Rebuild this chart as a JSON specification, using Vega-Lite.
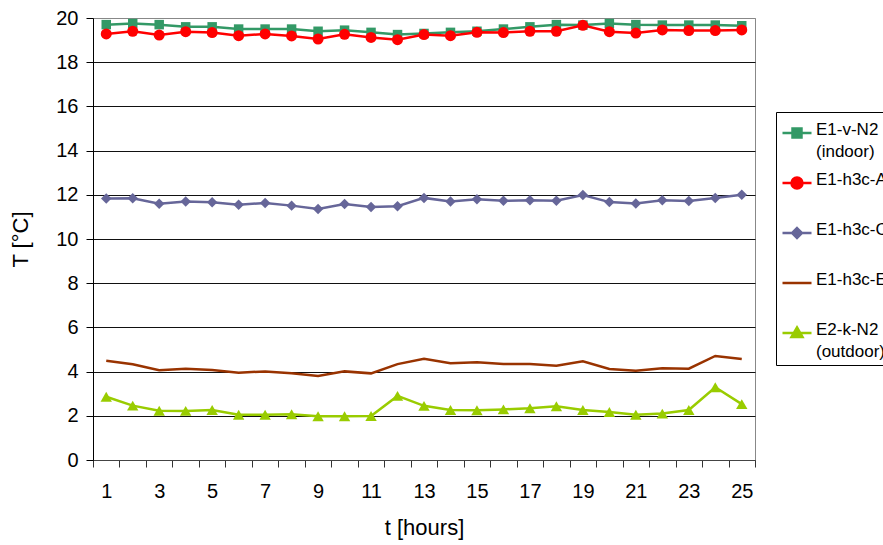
{
  "$schema": "https://vega.github.io/schema/vega-lite/v6.json",
  "width": 662,
  "height": 442,
  "autosize": {"type": "none"},
  "padding": {"left": 93, "top": 18, "right": 128, "bottom": 85},
  "background": "white",
  "config": {
    "font": "Liberation Sans",
    "view": {"stroke": "#888888", "strokeWidth": 1},
    "legend": {"titleFont": "Liberation Sans", "labelFont": "Liberation Sans"}
  },
  "datasets": {
    "temps": [
      {"t":1,"s":"E1-v-N2 (indoor)","T":19.7},{"t":2,"s":"E1-v-N2 (indoor)","T":19.75},{"t":3,"s":"E1-v-N2 (indoor)","T":19.7},{"t":4,"s":"E1-v-N2 (indoor)","T":19.6},{"t":5,"s":"E1-v-N2 (indoor)","T":19.6},{"t":6,"s":"E1-v-N2 (indoor)","T":19.5},{"t":7,"s":"E1-v-N2 (indoor)","T":19.5},{"t":8,"s":"E1-v-N2 (indoor)","T":19.5},{"t":9,"s":"E1-v-N2 (indoor)","T":19.4},{"t":10,"s":"E1-v-N2 (indoor)","T":19.45},{"t":11,"s":"E1-v-N2 (indoor)","T":19.35},{"t":12,"s":"E1-v-N2 (indoor)","T":19.25},{"t":13,"s":"E1-v-N2 (indoor)","T":19.3},{"t":14,"s":"E1-v-N2 (indoor)","T":19.35},{"t":15,"s":"E1-v-N2 (indoor)","T":19.4},{"t":16,"s":"E1-v-N2 (indoor)","T":19.5},{"t":17,"s":"E1-v-N2 (indoor)","T":19.6},{"t":18,"s":"E1-v-N2 (indoor)","T":19.7},{"t":19,"s":"E1-v-N2 (indoor)","T":19.68},{"t":20,"s":"E1-v-N2 (indoor)","T":19.75},{"t":21,"s":"E1-v-N2 (indoor)","T":19.7},{"t":22,"s":"E1-v-N2 (indoor)","T":19.68},{"t":23,"s":"E1-v-N2 (indoor)","T":19.68},{"t":24,"s":"E1-v-N2 (indoor)","T":19.68},{"t":25,"s":"E1-v-N2 (indoor)","T":19.65},
      {"t":1,"s":"E1-h3c-A","T":19.28},{"t":2,"s":"E1-h3c-A","T":19.4},{"t":3,"s":"E1-h3c-A","T":19.23},{"t":4,"s":"E1-h3c-A","T":19.38},{"t":5,"s":"E1-h3c-A","T":19.34},{"t":6,"s":"E1-h3c-A","T":19.2},{"t":7,"s":"E1-h3c-A","T":19.28},{"t":8,"s":"E1-h3c-A","T":19.19},{"t":9,"s":"E1-h3c-A","T":19.05},{"t":10,"s":"E1-h3c-A","T":19.26},{"t":11,"s":"E1-h3c-A","T":19.12},{"t":12,"s":"E1-h3c-A","T":19.02},{"t":13,"s":"E1-h3c-A","T":19.25},{"t":14,"s":"E1-h3c-A","T":19.2},{"t":15,"s":"E1-h3c-A","T":19.35},{"t":16,"s":"E1-h3c-A","T":19.34},{"t":17,"s":"E1-h3c-A","T":19.4},{"t":18,"s":"E1-h3c-A","T":19.4},{"t":19,"s":"E1-h3c-A","T":19.67},{"t":20,"s":"E1-h3c-A","T":19.38},{"t":21,"s":"E1-h3c-A","T":19.32},{"t":22,"s":"E1-h3c-A","T":19.46},{"t":23,"s":"E1-h3c-A","T":19.43},{"t":24,"s":"E1-h3c-A","T":19.43},{"t":25,"s":"E1-h3c-A","T":19.46},
      {"t":1,"s":"E1-h3c-C","T":11.83},{"t":2,"s":"E1-h3c-C","T":11.84},{"t":3,"s":"E1-h3c-C","T":11.6},{"t":4,"s":"E1-h3c-C","T":11.7},{"t":5,"s":"E1-h3c-C","T":11.66},{"t":6,"s":"E1-h3c-C","T":11.55},{"t":7,"s":"E1-h3c-C","T":11.63},{"t":8,"s":"E1-h3c-C","T":11.51},{"t":9,"s":"E1-h3c-C","T":11.36},{"t":10,"s":"E1-h3c-C","T":11.58},{"t":11,"s":"E1-h3c-C","T":11.45},{"t":12,"s":"E1-h3c-C","T":11.48},{"t":13,"s":"E1-h3c-C","T":11.86},{"t":14,"s":"E1-h3c-C","T":11.7},{"t":15,"s":"E1-h3c-C","T":11.8},{"t":16,"s":"E1-h3c-C","T":11.73},{"t":17,"s":"E1-h3c-C","T":11.75},{"t":18,"s":"E1-h3c-C","T":11.73},{"t":19,"s":"E1-h3c-C","T":11.99},{"t":20,"s":"E1-h3c-C","T":11.67},{"t":21,"s":"E1-h3c-C","T":11.61},{"t":22,"s":"E1-h3c-C","T":11.75},{"t":23,"s":"E1-h3c-C","T":11.72},{"t":24,"s":"E1-h3c-C","T":11.86},{"t":25,"s":"E1-h3c-C","T":12.0},
      {"t":1,"s":"E1-h3c-E","T":4.49},{"t":2,"s":"E1-h3c-E","T":4.33},{"t":3,"s":"E1-h3c-E","T":4.06},{"t":4,"s":"E1-h3c-E","T":4.13},{"t":5,"s":"E1-h3c-E","T":4.07},{"t":6,"s":"E1-h3c-E","T":3.95},{"t":7,"s":"E1-h3c-E","T":4.01},{"t":8,"s":"E1-h3c-E","T":3.92},{"t":9,"s":"E1-h3c-E","T":3.8},{"t":10,"s":"E1-h3c-E","T":4.01},{"t":11,"s":"E1-h3c-E","T":3.92},{"t":12,"s":"E1-h3c-E","T":4.34},{"t":13,"s":"E1-h3c-E","T":4.58},{"t":14,"s":"E1-h3c-E","T":4.38},{"t":15,"s":"E1-h3c-E","T":4.42},{"t":16,"s":"E1-h3c-E","T":4.34},{"t":17,"s":"E1-h3c-E","T":4.34},{"t":18,"s":"E1-h3c-E","T":4.27},{"t":19,"s":"E1-h3c-E","T":4.47},{"t":20,"s":"E1-h3c-E","T":4.12},{"t":21,"s":"E1-h3c-E","T":4.04},{"t":22,"s":"E1-h3c-E","T":4.15},{"t":23,"s":"E1-h3c-E","T":4.13},{"t":24,"s":"E1-h3c-E","T":4.71},{"t":25,"s":"E1-h3c-E","T":4.57},
      {"t":1,"s":"E2-k-N2 (outdoor)","T":2.86},{"t":2,"s":"E2-k-N2 (outdoor)","T":2.46},{"t":3,"s":"E2-k-N2 (outdoor)","T":2.23},{"t":4,"s":"E2-k-N2 (outdoor)","T":2.22},{"t":5,"s":"E2-k-N2 (outdoor)","T":2.26},{"t":6,"s":"E2-k-N2 (outdoor)","T":2.05},{"t":7,"s":"E2-k-N2 (outdoor)","T":2.05},{"t":8,"s":"E2-k-N2 (outdoor)","T":2.07},{"t":9,"s":"E2-k-N2 (outdoor)","T":1.98},{"t":10,"s":"E2-k-N2 (outdoor)","T":1.98},{"t":11,"s":"E2-k-N2 (outdoor)","T":1.99},{"t":12,"s":"E2-k-N2 (outdoor)","T":2.9},{"t":13,"s":"E2-k-N2 (outdoor)","T":2.45},{"t":14,"s":"E2-k-N2 (outdoor)","T":2.26},{"t":15,"s":"E2-k-N2 (outdoor)","T":2.25},{"t":16,"s":"E2-k-N2 (outdoor)","T":2.29},{"t":17,"s":"E2-k-N2 (outdoor)","T":2.34},{"t":18,"s":"E2-k-N2 (outdoor)","T":2.43},{"t":19,"s":"E2-k-N2 (outdoor)","T":2.26},{"t":20,"s":"E2-k-N2 (outdoor)","T":2.17},{"t":21,"s":"E2-k-N2 (outdoor)","T":2.05},{"t":22,"s":"E2-k-N2 (outdoor)","T":2.1},{"t":23,"s":"E2-k-N2 (outdoor)","T":2.26},{"t":24,"s":"E2-k-N2 (outdoor)","T":3.29},{"t":25,"s":"E2-k-N2 (outdoor)","T":2.53}
    ]
  },
  "data": {"name": "temps"},
  "encoding": {
    "x": {
      "field": "t", "type": "quantitative",
      "scale": {"domain": [0.5, 25.5], "nice": false, "zero": false},
      "axis": {
        "title": "t [hours]",
        "titleFontSize": 22, "titleFontWeight": "normal", "titleColor": "#000", "titlePadding": 16,
        "values": [0.5,1.5,2.5,3.5,4.5,5.5,6.5,7.5,8.5,9.5,10.5,11.5,12.5,13.5,14.5,15.5,16.5,17.5,18.5,19.5,20.5,21.5,22.5,23.5,24.5,25.5],
        "labelExpr": "datum.value < 25 && (datum.value - 0.5) % 2 == 0 ? format(datum.value + 0.5, 'd') : ''",
        "labelOffset": 13.24,
        "labelFontSize": 20, "labelColor": "#000", "labelPadding": 14,
        "labelOverlap": false, "labelFlush": false, "labelBound": false,
        "grid": false,
        "tickSize": 7, "tickColor": "#333", "tickWidth": 1,
        "domainColor": "#444", "domainWidth": 1
      }
    },
    "y": {
      "field": "T", "type": "quantitative",
      "scale": {"domain": [0, 20], "nice": false},
      "axis": {
        "title": "T [°C]",
        "titleFontSize": 22, "titleFontWeight": "normal", "titleColor": "#000", "titlePadding": 23,
        "values": [0,2,4,6,8,10,12,14,16,18,20],
        "labelFontSize": 20, "labelColor": "#000", "labelPadding": 8,
        "tickSize": 7, "tickColor": "#000",
        "domainColor": "#000",
        "grid": true,
        "gridColor": {"condition": {"test": "datum.value == 20", "value": "#888888"}, "value": "#111111"},
        "gridWidth": 1
      }
    }
  },
  "layer": [
    {
      "mark": {"type": "line", "strokeWidth": 2.5},
      "encoding": {
        "color": {
          "field": "s", "type": "nominal",
          "scale": {
            "domain": ["E1-v-N2 (indoor)", "E1-h3c-A", "E1-h3c-C", "E1-h3c-E", "E2-k-N2 (outdoor)"],
            "range": ["#339966", "#FF0000", "#666699", "#993300", "#99CC00"]
          },
          "legend": {
            "title": null,
            "orient": "none",
            "legendX": 683,
            "legendY": 94,
            "padding": 5,
            "strokeColor": "#000",
            "fillColor": "#fff",
            "rowPadding": 7,
            "symbolSize": 841,
            "symbolType": "M-1,0H1",
            "symbolStrokeWidth": 2.5,
            "labelFontSize": 17,
            "labelColor": "#000",
            "labelOffset": 3,
            "labelLimit": 300,
            "labelBaseline": "top",
            "labelExpr": "indexof(datum.label, ' ') > 0 ? split(datum.label, ' ') : [datum.label, '']",
            "encode": {
              "labels": {"update": {"lineHeight": {"value": 22}, "dy": {"value": -11}}},
              "symbols": {"update": {
                "shape": {"signal": "datum.value == 'E1-v-N2 (indoor)' ? 'M-1,0H1M-0.31,-0.31H0.31V0.31H-0.31Z' : datum.value == 'E1-h3c-A' ? 'M-1,0H1M-0.38,0A0.38,0.38,0,1,0,0.38,0A0.38,0.38,0,1,0,-0.38,0Z' : datum.value == 'E1-h3c-C' ? 'M-1,0H1M0,-0.34L0.34,0L0,0.34L-0.34,0Z' : datum.value == 'E1-h3c-E' ? 'M-1,0H1' : 'M-1,0H1M0,-0.38L0.38,0.28L-0.38,0.28Z'"},
                "fill": {"scale": "color", "field": "value"},
                "stroke": {"scale": "color", "field": "value"},
                "strokeWidth": {"value": 2.5},
                "opacity": {"value": 1}
              }}
            }
          }
        }
      }
    },
    {
      "transform": [{"filter": "datum.s == 'E1-v-N2 (indoor)'"}],
      "mark": {"type": "point", "filled": true, "opacity": 1, "shape": "square", "size": 90, "color": "#339966"}
    },
    {
      "transform": [{"filter": "datum.s == 'E1-h3c-A'"}],
      "mark": {"type": "point", "filled": true, "opacity": 1, "shape": "circle", "size": 121, "color": "#FF0000"}
    },
    {
      "transform": [{"filter": "datum.s == 'E1-h3c-C'"}],
      "mark": {"type": "point", "filled": true, "opacity": 1, "shape": "diamond", "size": 110, "color": "#666699"}
    },
    {
      "transform": [{"filter": "datum.s == 'E2-k-N2 (outdoor)'"}],
      "mark": {"type": "point", "filled": true, "opacity": 1, "shape": "triangle-up", "size": 130, "color": "#99CC00"}
    }
  ]
}
